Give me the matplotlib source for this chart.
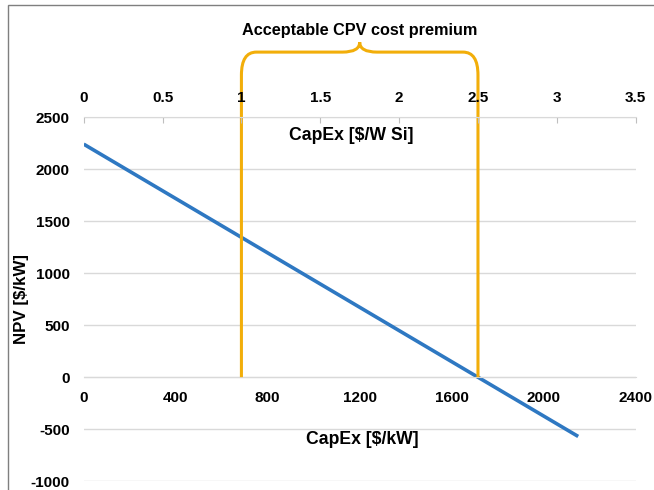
"""NPV vs CapEx with acceptable CPV cost premium bracket."""

import matplotlib
matplotlib.use("Agg")
import matplotlib.pyplot as plt
from matplotlib.path import Path
from matplotlib.patches import PathPatch, Rectangle

plt.rcParams["font.family"] = ["Liberation Sans", "DejaVu Sans"]
plt.rcParams["font.weight"] = "bold"
plt.rcParams["axes.unicode_minus"] = False

# data
capex_kw = [0, 2150]
npv = [2240, -570]
premium_w_si = [1.0, 2.5]          # acceptable CPV cost premium bounds ($/W Si)
xticks_kw = [0, 400, 800, 1200, 1600, 2000, 2400]
xticks_w = [0, 0.5, 1, 1.5, 2, 2.5, 3, 3.5]
xticklabels_w = ["0", "0.5", "1", "1.5", "2", "2.5", "3", "3.5"]
yticks = [-1000, -500, 0, 500, 1000, 1500, 2000, 2500]

blue = "#2E78C2"
orange = "#F2AE0A"
grid = "#D9D9D9"

fig = plt.figure(figsize=(6.54, 4.90), dpi=100)
ax = fig.add_axes([0.128, 0.018, 0.844, 0.743])
ax.set_xlim(0, 2400)
ax.set_ylim(-1000, 2500)
kw_per_w = 2400 / 3.5

for s in ["top", "right", "left"]:
    ax.spines[s].set_visible(False)
ax.spines["bottom"].set_position(("data", 0))
ax.spines["bottom"].set_color(grid)
ax.set_yticks(yticks)
ax.set_xticks(xticks_kw)
ax.yaxis.grid(True, color=grid, lw=1)
ax.set_axisbelow(True)
ax.tick_params(axis="y", length=0, pad=10, labelsize=11)
ax.tick_params(axis="x", length=0, pad=10, labelsize=11)

top = ax.twiny()
top.set_xlim(0, 3.5)
top.set_xticks(xticks_w)
top.set_xticklabels(xticklabels_w)
for s in ["bottom", "right", "left"]:
    top.spines[s].set_visible(False)
top.spines["top"].set_color(grid)
top.tick_params(axis="x", direction="in", length=4, color="#BFBFBF", pad=9, labelsize=11)

ax.plot(capex_kw, npv, color=blue, lw=2.6, solid_capstyle="butt")

# bracket: vertical lines up from 0, curly brace above the top axis
xl, xr = premium_w_si[0] * kw_per_w, premium_w_si[1] * kw_per_w
xm = (xl + xr) / 2
y_corner, y_h, y_tip = 2904, 3125, 3221
dx_c, dx_m = 65, 75
verts = [
    (xl, 0), (xl, y_corner), (xl, y_h), (xl + dx_c, y_h),
    (xm - dx_m, y_h), (xm, y_h), (xm, y_tip),
    (xm, y_h), (xm + dx_m, y_h),
    (xr - dx_c, y_h), (xr, y_h), (xr, y_corner), (xr, 0),
]
codes = [
    Path.MOVETO, Path.LINETO, Path.CURVE3, Path.CURVE3,
    Path.LINETO, Path.CURVE3, Path.CURVE3,
    Path.CURVE3, Path.CURVE3,
    Path.LINETO, Path.CURVE3, Path.CURVE3, Path.LINETO,
]
ax.add_patch(PathPatch(Path(verts, codes), fill=False, ec=orange, lw=2.2,
                       clip_on=False, zorder=5, capstyle="butt"))

ax.text(xm, 3330, "Acceptable CPV cost premium", ha="center", va="center",
        fontsize=11.7, fontweight="bold")
ax.text(1165, 2325, "CapEx [$/W Si]", ha="center", va="center",
        fontsize=12.7, fontweight="bold")
ax.text(1210, -600, "CapEx [$/kW]", ha="center", va="center",
        fontsize=12.7, fontweight="bold")
fig.text(0.033, 0.39, "NPV [$/kW]", rotation=90, ha="center", va="center",
         fontsize=12.2, fontweight="bold")

fig.patches.append(Rectangle((0.012, -0.05), 1.2, 1.04, transform=fig.transFigure,
                             fill=False, ec="#7F7F7F", lw=1.0))

fig.savefig("out.png", dpi=100)
